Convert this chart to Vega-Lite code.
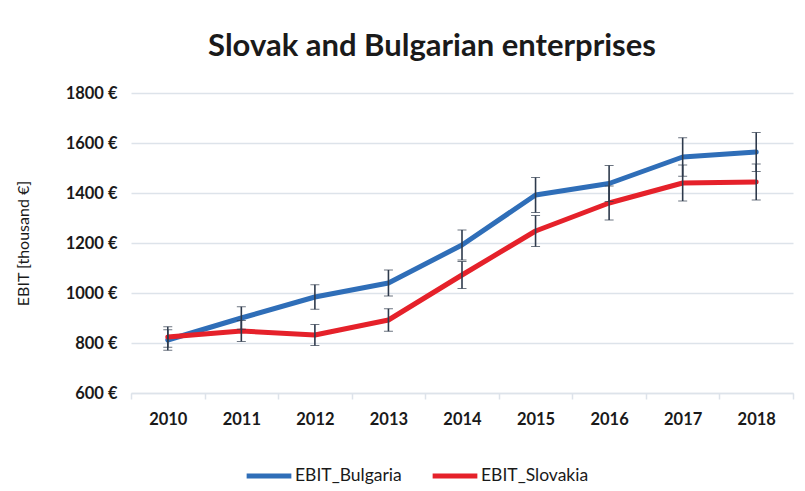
{
  "$schema": "https://vega.github.io/schema/vega-lite/v6.json",
  "width": 662,
  "height": 300,
  "autosize": {"type": "none"},
  "padding": {"left": 131, "top": 93, "right": 12, "bottom": 98},
  "background": "white",
  "title": {
    "text": "Slovak and Bulgarian enterprises",
    "font": "Lato",
    "fontSize": 31,
    "fontWeight": "bold",
    "color": "#1a1a1a",
    "anchor": "middle",
    "dx": -30,
    "offset": 22
  },
  "data": {
    "values": [
      {"year": "2010", "series": "EBIT_Bulgaria", "value": 812, "low": 771, "high": 853},
      {"year": "2011", "series": "EBIT_Bulgaria", "value": 900, "low": 855, "high": 945},
      {"year": "2012", "series": "EBIT_Bulgaria", "value": 984, "low": 935, "high": 1033},
      {"year": "2013", "series": "EBIT_Bulgaria", "value": 1040, "low": 988, "high": 1092},
      {"year": "2014", "series": "EBIT_Bulgaria", "value": 1192, "low": 1132, "high": 1252},
      {"year": "2015", "series": "EBIT_Bulgaria", "value": 1392, "low": 1322, "high": 1462},
      {"year": "2016", "series": "EBIT_Bulgaria", "value": 1438, "low": 1366, "high": 1510},
      {"year": "2017", "series": "EBIT_Bulgaria", "value": 1544, "low": 1467, "high": 1621},
      {"year": "2018", "series": "EBIT_Bulgaria", "value": 1564, "low": 1486, "high": 1642},
      {"year": "2010", "series": "EBIT_Slovakia", "value": 824, "low": 783, "high": 865},
      {"year": "2011", "series": "EBIT_Slovakia", "value": 848, "low": 806, "high": 890},
      {"year": "2012", "series": "EBIT_Slovakia", "value": 832, "low": 790, "high": 874},
      {"year": "2013", "series": "EBIT_Slovakia", "value": 892, "low": 847, "high": 937},
      {"year": "2014", "series": "EBIT_Slovakia", "value": 1072, "low": 1018, "high": 1126},
      {"year": "2015", "series": "EBIT_Slovakia", "value": 1248, "low": 1186, "high": 1310},
      {"year": "2016", "series": "EBIT_Slovakia", "value": 1360, "low": 1292, "high": 1428},
      {"year": "2017", "series": "EBIT_Slovakia", "value": 1440, "low": 1368, "high": 1512},
      {"year": "2018", "series": "EBIT_Slovakia", "value": 1444, "low": 1372, "high": 1516}
    ]
  },
  "encoding": {
    "x": {
      "field": "year",
      "type": "ordinal",
      "bandPosition": 0.5,
      "scale": {"type": "band", "paddingInner": 0, "paddingOuter": 0},
      "axis": {
        "title": null,
        "labelAngle": 0,
        "labelFont": "Lato",
        "labelFontSize": 16.5,
        "labelFontWeight": "bold",
        "labelColor": "#1a1a1a",
        "labelPadding": 12,
        "domain": true,
        "domainColor": "#dde3ea",
        "domainWidth": 1.5,
        "ticks": true,
        "tickBand": "extent",
        "tickColor": "#dde3ea",
        "tickWidth": 1.5,
        "tickSize": 6,
        "grid": false
      }
    }
  },
  "layer": [
    {
      "mark": {"type": "line", "strokeWidth": 5, "strokeCap": "round", "strokeJoin": "round"},
      "encoding": {
        "y": {
          "field": "value",
          "type": "quantitative",
          "scale": {"domain": [600, 1800]},
          "axis": {
            "title": "EBIT [thousand €]",
            "titleFont": "Lato",
            "titleFontSize": 16,
            "titleFontWeight": "normal",
            "titleColor": "#1a1a1a",
            "titlePadding": 34,
            "values": [600, 800, 1000, 1200, 1400, 1600, 1800],
            "labelExpr": "datum.value + ' €'",
            "labelFont": "Lato",
            "labelFontSize": 16.5,
            "labelFontWeight": "bold",
            "labelColor": "#1a1a1a",
            "labelPadding": 14,
            "domain": false,
            "ticks": false,
            "grid": true,
            "gridColor": "#dde3ea",
            "gridWidth": 1.5
          }
        },
        "color": {
          "field": "series",
          "type": "nominal",
          "scale": {"domain": ["EBIT_Bulgaria", "EBIT_Slovakia"], "range": ["#2f6eb8", "#e5212a"]},
          "legend": {
            "title": null,
            "orient": "none",
            "legendX": 113,
            "legendY": 358,
            "direction": "horizontal",
            "symbolType": "stroke",
            "symbolStrokeWidth": 5,
            "symbolSize": 2000,
            "labelFont": "Lato",
            "labelFontSize": 17.5,
            "labelColor": "#1a1a1a",
            "labelOffset": 1,
            "columnPadding": 20
          }
        }
      }
    },
    {
      "mark": {
        "type": "errorbar",
        "ticks": {"size": 9, "color": "#2e3a4c", "strokeWidth": 1.6},
        "rule": {"color": "#2e3a4c", "strokeWidth": 1.6}
      },
      "encoding": {
        "y": {"field": "low", "type": "quantitative", "title": "EBIT [thousand €]"},
        "y2": {"field": "high"},
        "detail": {"field": "series"}
      }
    }
  ],
  "config": {
    "view": {"stroke": null}
  }
}
